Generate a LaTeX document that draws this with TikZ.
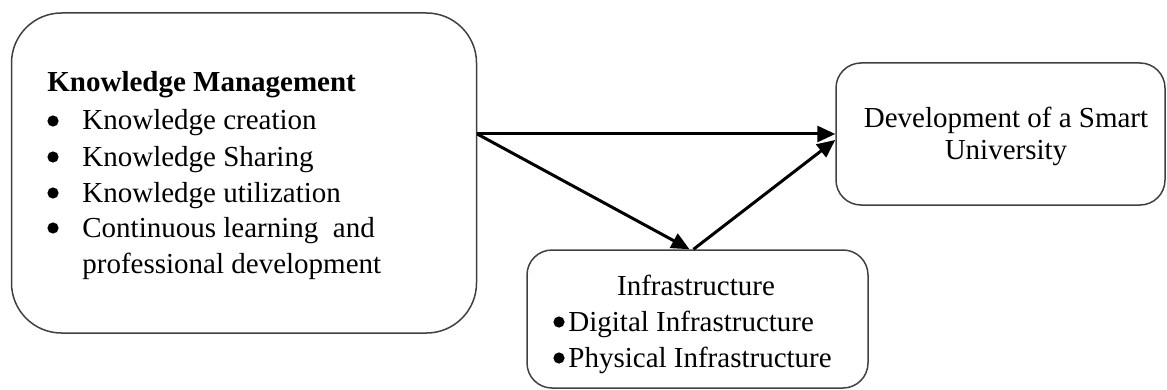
\documentclass[tikz,border=0pt]{standalone}
\usepackage{fontspec}
\setmainfont{Liberation Serif}
\usetikzlibrary{arrows.meta}
% round list marker sitting on the text's midline
\newcommand\listdot{\tikz[baseline=-4.5pt]\fill (0,0) circle (2.8pt);}
\begin{document}
\begin{tikzpicture}[x=0.5pt,y=-0.5pt,
  box/.style={draw=black!75, line width=0.75pt, rounded corners=#1, inner sep=0pt},
  txt/.style={inner sep=0pt, font=\fontsize{14.5pt}{18pt}\selectfont},
  link/.style={line width=1.5pt, -{Triangle[length=9pt,width=8pt]}},
]
\useasboundingbox (0,0) rectangle (1167,390);

% boxes
\node[box=25pt, minimum width=232.5pt, minimum height=160pt] (km) at (244,173) {};
\node[box=12.5pt, minimum width=164.5pt, minimum height=71pt] (dev) at (1000.5,134) {};
\node[box=12.5pt, minimum width=170.5pt, minimum height=69pt] (infra) at (697.5,319) {};

% knowledge management list
\node[txt, anchor=base west, font=\fontsize{14.5pt}{18pt}\selectfont\bfseries] (kmtitle) at (47,92) {Knowledge Management};
\node[txt, anchor=base west] (km1) at (47,130) {\makebox[17.5pt][l]{\listdot}Knowledge creation};
\node[txt, anchor=base west] (km2) at (47,166) {\makebox[17.5pt][l]{\listdot}Knowledge Sharing};
\node[txt, anchor=base west] (km3) at (47,202) {\makebox[17.5pt][l]{\listdot}Knowledge utilization};
\node[txt, anchor=base west] (km4) at (47,237) {\makebox[17.5pt][l]{\listdot}Continuous learning\ \ and};
\node[txt, anchor=base west] (km5) at (82,273) {professional development};

% outcome
\node[txt, anchor=base] (dev1) at (1006,127) {Development of a Smart};
\node[txt, anchor=base] (dev2) at (1006,160) {University};

% infrastructure list
\node[txt, anchor=base] (inf0) at (696,295) {Infrastructure};
\node[txt, anchor=base west] (inf1) at (553,331) {\makebox[7.5pt][l]{\listdot}Digital Infrastructure};
\node[txt, anchor=base west] (inf2) at (553,367) {\makebox[7.5pt][l]{\listdot}Physical Infrastructure};

% connectors
\coordinate (src) at (km.east |- dev.west);
\draw[link] (src) -- (dev.west);
\draw[link] (src) -- ([xshift=-4pt]infra.north);
\draw[link] ([xshift=-2pt]infra.north) -- ([yshift=-3pt]dev.west);
\end{tikzpicture}
\end{document}
